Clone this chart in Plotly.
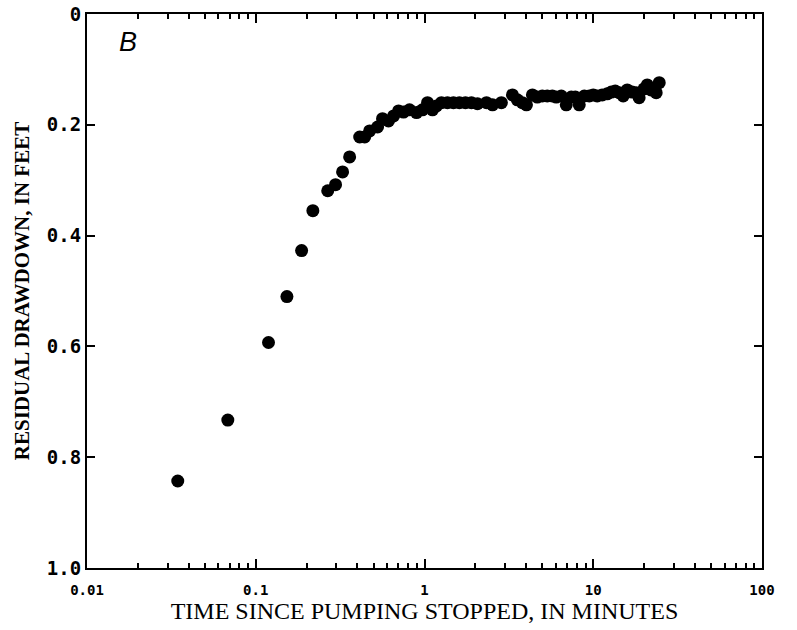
import plotly.graph_objects as go

# Time since pumping stopped (minutes) and residual drawdown (feet)
time_min = [0.0345, 0.0683, 0.119, 0.153, 0.187, 0.218, 0.267, 0.297, 0.327, 0.360,
            0.413, 0.442, 0.473, 0.527, 0.564, 0.612, 0.656, 0.702, 0.751, 0.815,
            0.897, 0.973, 1.042, 1.115, 1.178, 1.26, 1.368, 1.484, 1.61, 1.748,
            1.897, 2.06, 2.33, 2.53, 2.855, 3.32, 3.55, 3.80, 4.02, 4.36,
            4.66, 4.99, 5.34, 5.72, 6.04, 6.47, 6.92, 7.41, 7.83, 8.26,
            8.85, 9.47, 10.0, 10.55, 11.3, 12.1, 12.8, 13.5, 14.25, 15.05,
            15.9, 17.0, 17.97, 18.7, 20.0, 20.9, 22.0, 23.6, 24.6]
drawdown_ft = [0.843, 0.733, 0.593, 0.510, 0.427, 0.355, 0.319, 0.308, 0.285, 0.258,
               0.222, 0.222, 0.211, 0.204, 0.189, 0.193, 0.184, 0.175, 0.177, 0.173,
               0.178, 0.173, 0.160, 0.173, 0.166, 0.160, 0.160, 0.160, 0.160, 0.160,
               0.160, 0.162, 0.160, 0.164, 0.160, 0.146, 0.155, 0.160, 0.164, 0.146,
               0.150, 0.148, 0.148, 0.148, 0.150, 0.148, 0.164, 0.150, 0.150, 0.164,
               0.148, 0.148, 0.146, 0.148, 0.146, 0.144, 0.141, 0.139, 0.142, 0.148,
               0.137, 0.141, 0.142, 0.151, 0.135, 0.128, 0.137, 0.142, 0.124]

x_tickvals = [0.01, 0.1, 1, 10, 100]
x_ticktext = ["0.01", "0.1", "1", "10", "100"]
y_tickvals = [0, 0.2, 0.4, 0.6, 0.8, 1.0]
y_ticktext = ["0", "0.2", "0.4", "0.6", "0.8", "1.0"]

fig = go.Figure()
fig.add_trace(go.Scatter(
    x=time_min, y=drawdown_ft, mode="markers",
    marker=dict(color="black", size=13, line=dict(width=0)),
    showlegend=False,
))

fig.update_layout(
    width=797, height=630,
    margin=dict(l=87, r=35, t=14, b=62, autoexpand=False),
    paper_bgcolor="white", plot_bgcolor="white",
    font=dict(color="black"),
)

fig.update_xaxes(
    type="log", range=[-2, 2], automargin=False,
    tickvals=x_tickvals, ticktext=x_ticktext,
    tickfont=dict(family="DejaVu Sans Mono", size=14, color="black", weight="bold"),
    ticklabelstandoff=8,
    ticks="inside", ticklen=9, tickwidth=2, tickcolor="black",
    minor=dict(ticks="inside", ticklen=5, tickwidth=1.5, tickcolor="black", dtick="D1", showgrid=False),
    showline=True, linewidth=2, linecolor="black", mirror="ticks",
    showgrid=False, zeroline=False,
    title=dict(text="TIME SINCE PUMPING STOPPED, IN MINUTES",
               font=dict(family="Liberation Serif", size=24, color="black"), standoff=2),
)
fig.update_yaxes(
    range=[1.0, 0], automargin=False,
    tickvals=y_tickvals, ticktext=y_ticktext,
    tickfont=dict(family="DejaVu Sans Mono", size=19, color="black", weight="bold"),
    ticklabeloverflow="allow",
    ticks="inside", ticklen=8, tickwidth=2, tickcolor="black",
    showline=True, linewidth=2, linecolor="black", mirror="ticks",
    showgrid=False, zeroline=False,
    title=dict(text="RESIDUAL DRAWDOWN, IN FEET",
               font=dict(family="Liberation Serif", size=21, color="black", weight="bold"), standoff=12),
)

fig.add_annotation(
    text="<i>B</i>", xref="paper", yref="paper", x=0.061, y=0.95,
    xanchor="center", yanchor="middle", showarrow=False,
    font=dict(family="Liberation Sans", size=27, color="black"),
)

fig.write_html("out.html", config={"displayModeBar": False},
               post_script="document.body.style.margin='0';")
